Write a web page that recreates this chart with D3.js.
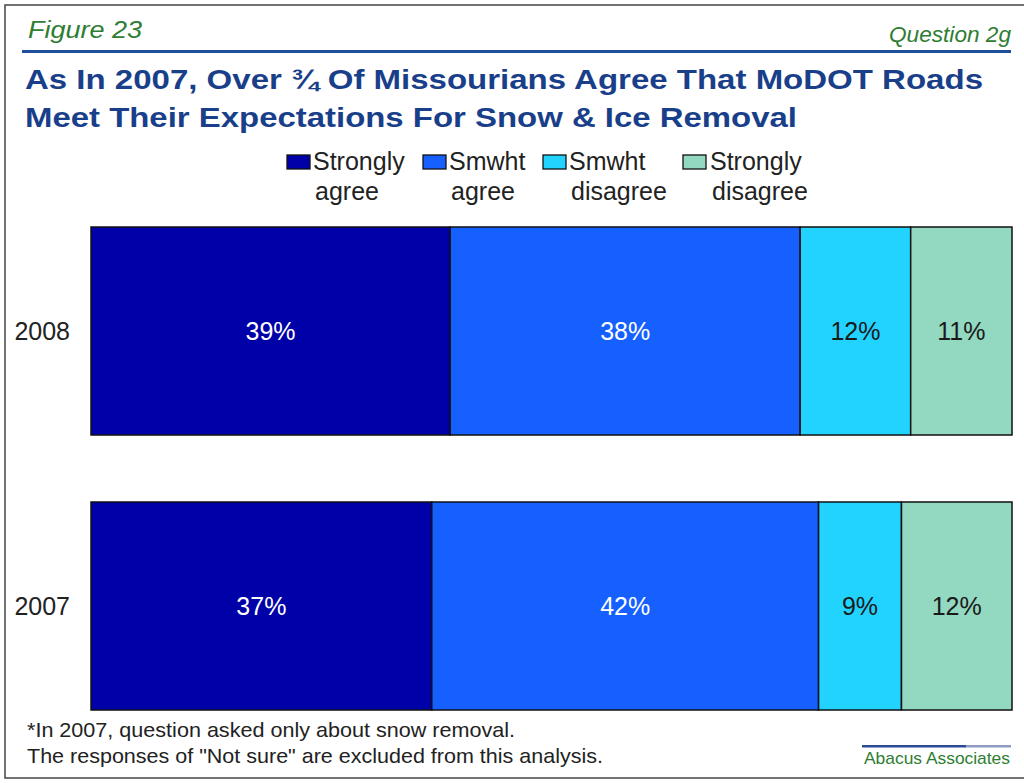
<!DOCTYPE html>
<html><head><meta charset="utf-8">
<script src="https://cdn.jsdelivr.net/npm/d3@7"></script>
<style>body{margin:0;background:#fff}svg{display:block}text{font-family:"Liberation Sans",Arial,sans-serif}</style>
</head><body>
<script>
const categories = ["2008", "2007"];
const seriesNames = [["Strongly","agree"],["Smwht","agree"],["Smwht","disagree"],["Strongly","disagree"]];
const stronglyAgree = [39, 37];
const smwhtAgree = [38, 42];
const smwhtDisagree = [12, 9];
const stronglyDisagree = [11, 12];
const seriesColors = ["#0000A8", "#1560FF", "#22D3FF", "#93D8C0"];
const labelColors = ["#FFFFFF", "#FFFFFF", "#1a1a1a", "#1a1a1a"];

const W = 1024, H = 783;
const svg = d3.select("body").append("svg").attr("width", W).attr("height", H);

// frame
svg.append("rect").attr("x", 5).attr("y", 5).attr("width", 1030).attr("height", 773)
  .attr("fill", "none").attr("stroke", "#444").attr("stroke-width", 1.5);

// header
svg.append("text").attr("x", 28).attr("y", 38).attr("font-size", 24).attr("font-style", "italic")
  .attr("fill", "#2E7D32").attr("textLength", 114).attr("lengthAdjust", "spacingAndGlyphs").text("Figure 23");
svg.append("text").attr("x", 889).attr("y", 42).attr("font-size", 22).attr("font-style", "italic")
  .attr("fill", "#2E7D32").attr("textLength", 122).attr("lengthAdjust", "spacingAndGlyphs").text("Question 2g");
svg.append("rect").attr("x", 22).attr("y", 50).attr("width", 989).attr("height", 3).attr("fill", "#1F4E9A");

svg.append("text").attr("x", 25).attr("y", 89).attr("font-size", 28).attr("font-weight", "bold")
  .attr("fill", "#1A3F8A").attr("textLength", 958).attr("lengthAdjust", "spacingAndGlyphs")
  .text("As In 2007, Over ¾ Of Missourians Agree That MoDOT Roads");
svg.append("text").attr("x", 25).attr("y", 127).attr("font-size", 28).attr("font-weight", "bold")
  .attr("fill", "#1A3F8A").attr("textLength", 772).attr("lengthAdjust", "spacingAndGlyphs")
  .text("Meet Their Expectations For Snow & Ice Removal");

// legend
const legendX = [287, 423, 543, 683];
const legendTextX = [313, 449, 569, 710];
const lg = svg.append("g");
seriesNames.forEach((nm, i) => {
  lg.append("rect").attr("x", legendX[i]).attr("y", 155).attr("width", 23).attr("height", 14)
    .attr("fill", seriesColors[i]).attr("stroke", "#111").attr("stroke-width", 1.3);
  lg.append("text").attr("x", legendTextX[i]).attr("y", 170).attr("font-size", 25).attr("fill", "#222")
    .text(nm[0]);
  lg.append("text").attr("x", legendTextX[i] + 2).attr("y", 200).attr("font-size", 25).attr("fill", "#222")
    .text(nm[1]);
});

// scales
const x = d3.scaleLinear().domain([0, 100]).range([91, 1012]);
const y = d3.scaleBand().domain(categories).range([227, 710]).paddingInner(67 / 275).paddingOuter(0);

const series = [stronglyAgree, smwhtAgree, smwhtDisagree, stronglyDisagree];
const rows = categories.map((c, ci) => {
  const o = { cat: c };
  series.forEach((s, si) => o["s" + si] = s[ci]);
  return o;
});
const stack = d3.stack().keys(series.map((_, i) => "s" + i))(rows);

const bars = svg.append("g");
stack.forEach((layer, si) => {
  layer.forEach(d => {
    bars.append("rect")
      .attr("x", x(d[0])).attr("y", y(d.data.cat))
      .attr("width", x(d[1]) - x(d[0])).attr("height", y.bandwidth())
      .attr("fill", seriesColors[si]).attr("stroke", "#111").attr("stroke-width", 1.5);
    bars.append("text")
      .attr("x", (x(d[0]) + x(d[1])) / 2).attr("y", y(d.data.cat) + y.bandwidth() / 2 + 9)
      .attr("text-anchor", "middle").attr("font-size", 25).attr("fill", labelColors[si])
      .text(d.data["s" + si] + "%");
  });
});

// axis labels
const yAxis = d3.axisLeft(y).tickSize(0).tickPadding(21);
const ax = svg.append("g").attr("transform", "translate(91,0)").call(yAxis);
ax.select(".domain").remove();
ax.selectAll("text").attr("font-size", 25).attr("fill", "#222").attr("dy", "0.36em")
  .attr("font-family", "Liberation Sans, Arial, sans-serif");

// footnotes
svg.append("text").attr("x", 27).attr("y", 737).attr("font-size", 21).attr("fill", "#222")
  .attr("textLength", 488).attr("lengthAdjust", "spacingAndGlyphs")
  .text("*In 2007, question asked only about snow removal.");
svg.append("text").attr("x", 27).attr("y", 763).attr("font-size", 21).attr("fill", "#222")
  .attr("textLength", 576).attr("lengthAdjust", "spacingAndGlyphs")
  .text("The responses of \"Not sure\" are excluded from this analysis.");

svg.append("rect").attr("x", 862).attr("y", 745).attr("width", 104).attr("height", 2.5).attr("fill", "#2A4C95");
svg.append("rect").attr("x", 966).attr("y", 745).attr("width", 45).attr("height", 2.5).attr("fill", "#8E9CC4");
svg.append("text").attr("x", 864).attr("y", 764).attr("font-size", 17).attr("fill", "#2E7D32")
  .attr("textLength", 146).attr("lengthAdjust", "spacingAndGlyphs").text("Abacus Associates");
</script>
</body></html>
